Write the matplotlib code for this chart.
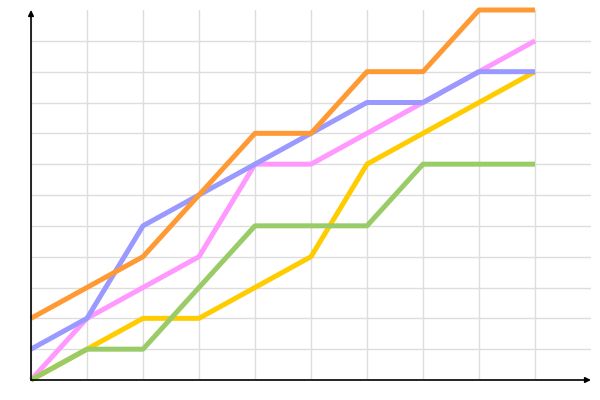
import matplotlib
matplotlib.use("Agg")
import matplotlib.pyplot as plt

x = [0, 1, 2, 3, 4, 5, 6, 7, 8, 9]
orange = [2, 3, 4, 6, 8, 8, 10, 10, 12, 12]
blue = [1, 2, 5, 6, 7, 8, 9, 9, 10, 10]
pink = [0, 2, 3, 4, 7, 7, 8, 9, 10, 11]
yellow = [0, 1, 2, 2, 3, 4, 7, 8, 9, 10]
green = [0, 1, 1, 3, 5, 5, 5, 7, 7, 7]

fig = plt.figure(figsize=(6, 4), dpi=100)
ax = fig.add_axes([31 / 600, 20 / 400, 560 / 600, 370 / 400])

# draw order matters for overlaps
style = dict(lw=3.6, clip_on=False, zorder=3, solid_capstyle="butt")
ax.plot(x, pink, color="#ff99ff", **style)
ax.plot(x, yellow, color="#ffcc00", **style)
ax.plot(x, blue, color="#9999ff", **style)
ax.plot(x, green, color="#99cc66", **style)
ax.plot(x, orange, color="#ff9933", **style)

ax.set_xlim(0, 10)
ax.set_ylim(0, 12)
ax.set_xticks(range(0, 10))
ax.set_yticks(range(0, 12))
ax.tick_params(length=0, labelbottom=False, labelleft=False)
ax.grid(True, color="#dddddd", lw=1)
ax.set_axisbelow(True)
for s in ax.spines.values():
    s.set_visible(False)

# axes with arrowheads
ax.annotate("", xy=(1, 0), xytext=(0, 0), xycoords="axes fraction",
            arrowprops=dict(arrowstyle="-|>", color="black", lw=1.2,
                            mutation_scale=8, shrinkA=0, shrinkB=0), zorder=5)
ax.annotate("", xy=(0, 1), xytext=(0, 0), xycoords="axes fraction",
            arrowprops=dict(arrowstyle="-|>", color="black", lw=1.2,
                            mutation_scale=8, shrinkA=0, shrinkB=0), zorder=5)

fig.savefig("out.png", dpi=100)
